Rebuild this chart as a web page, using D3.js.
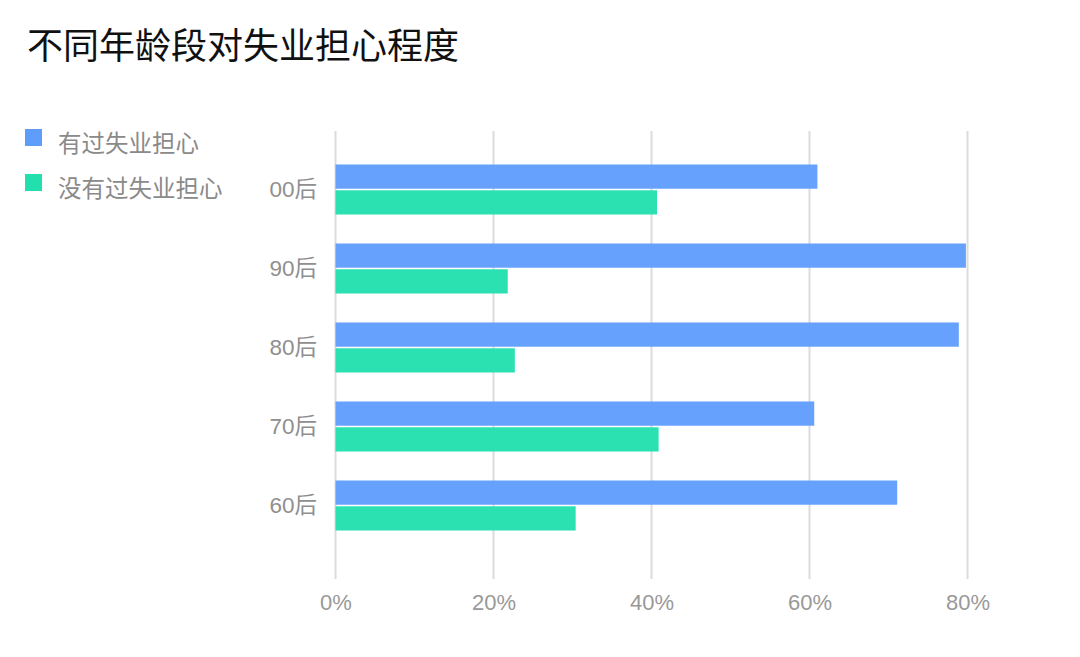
<!DOCTYPE html>
<html><head><meta charset="utf-8">
<script src="https://cdn.jsdelivr.net/npm/d3@7"></script>
<style>
html,body{margin:0;padding:0;background:#fff;}
text{font-family:"Noto Sans CJK SC","Noto Sans",sans-serif;}
</style></head>
<body><svg id="c" width="1080" height="657"></svg>
<script>
const title = "不同年龄段对失业担心程度";
const categories = ["00后","90后","80后","70后","60后"];
const seriesNames = ["有过失业担心","没有过失业担心"];
const worried = [61.0, 79.8, 78.9, 60.6, 71.1];
const notWorried = [40.7, 21.8, 22.7, 40.9, 30.4];
const tickValues = [0, 20, 40, 60, 80];
const colors = ["#5f9dfd", "#22dfae"];
const numFont = '"Liberation Sans","Noto Sans CJK SC",sans-serif';

const svg = d3.select("#c");
svg.append("rect").attr("width",1080).attr("height",657).attr("fill","#fff");

svg.append("text").attr("x",27).attr("y",59).attr("font-size",36).attr("fill","#111").text(title);

const x = d3.scaleLinear().domain([0,80]).range([335.5,967.5]);
const y = d3.scaleBand().domain(categories).range([150,545]).paddingInner(0.367).paddingOuter(0.1835);
const sub = d3.scaleBand().domain([0,1]).range([0,y.bandwidth()]).paddingInner(0.06);

// gridlines
svg.append("g").selectAll("line").data(tickValues).join("line")
  .attr("x1",d=>x(d)).attr("x2",d=>x(d)).attr("y1",131).attr("y2",579)
  .attr("stroke","#dcdcdc").attr("stroke-width",2);

// x tick labels
const xAxis = d3.axisBottom(x).tickValues(tickValues).tickFormat(d=>d+"%").tickSize(0).tickPadding(0);
const gx = svg.append("g").attr("transform","translate(0,594)").call(xAxis);
gx.select(".domain").remove();
gx.selectAll("text").attr("font-size",22).attr("fill","#999").attr("dy","0.71em")
  .style("font-family",numFont);

// y labels
const yAxis = d3.axisLeft(y).tickSize(0).tickPadding(0);
const gy = svg.append("g").attr("transform","translate(317,0)").call(yAxis);
gy.select(".domain").remove();
gy.selectAll("text").attr("font-size",22.5).attr("fill","#8f8f8f")
  .style("font-family",numFont);

// bars
const data = categories.map((c,i)=>({c, v:[worried[i], notWorried[i]]}));
const groups = svg.append("g").selectAll("g").data(data).join("g")
  .attr("transform",d=>`translate(0,${y(d.c)})`);
groups.selectAll("rect").data(d=>d.v.map((v,k)=>({v,k}))).join("rect")
  .attr("x",x(0)).attr("y",d=>sub(d.k)).attr("height",sub.bandwidth())
  .attr("width",d=>x(d.v)-x(0)).attr("fill",d=>colors[d.k]).attr("fill-opacity",0.96);

// legend
const lg = svg.append("g").selectAll("g").data(seriesNames).join("g")
  .attr("transform",(d,i)=>`translate(25,${129+i*45})`);
lg.append("rect").attr("width",17).attr("height",17).attr("fill",(d,i)=>colors[i]);
lg.append("text").attr("x",33).attr("y",15).attr("dy","0.35em").attr("font-size",23.5).attr("fill","#8a8a8a").text(d=>d);
</script></body></html>
